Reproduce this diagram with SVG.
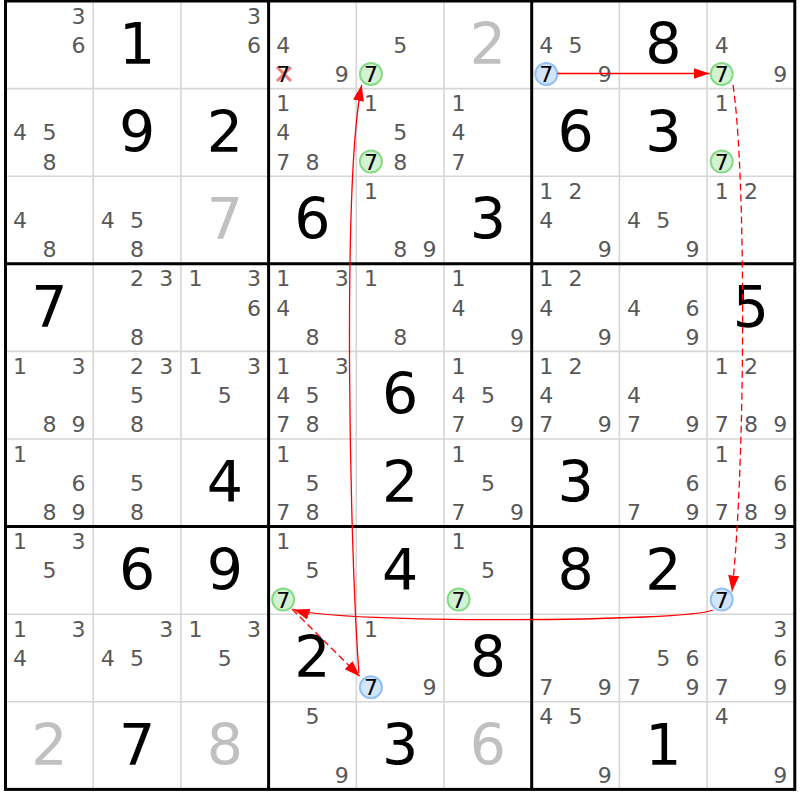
<svg xmlns="http://www.w3.org/2000/svg" width="800" height="800" viewBox="0 0 800 800">
<style>
.c{font-family:"DejaVu Sans","Liberation Sans",sans-serif;font-size:22px;fill:#585858;text-anchor:middle}
.k{font-family:"DejaVu Sans","Liberation Sans",sans-serif;font-size:22px;fill:#000;text-anchor:middle}
.b{font-family:"DejaVu Sans","Liberation Sans",sans-serif;font-size:57px;fill:#000;text-anchor:middle}
.g{font-family:"DejaVu Sans","Liberation Sans",sans-serif;font-size:57px;fill:#c0c0c0;text-anchor:middle}
.thin{stroke:#d6d6d6;stroke-width:1.6}
.thick{stroke:#000;stroke-width:3}
.gc{fill:#d3f1d3;stroke:#86da86;stroke-width:2}
.bc{fill:#d3e5fb;stroke:#92c2f2;stroke-width:2}
.arr{fill:none;stroke:#ff0000;stroke-width:1.3}
.dash{stroke-dasharray:7,4}
</style>
<defs>
<marker id="ah" markerUnits="userSpaceOnUse" markerWidth="18" markerHeight="12" refX="16" refY="5.5" orient="auto">
<path d="M0,0 L16,5.5 L0,11 Z" fill="#ff0000"/>
</marker>
</defs>
<rect x="0" y="0" width="800" height="800" fill="#fff"/>
<g id="grid">
<line class="thin" x1="93.2" y1="1" x2="93.2" y2="789.4"/>
<line class="thin" x1="180.9" y1="1" x2="180.9" y2="789.4"/>
<line class="thin" x1="356.3" y1="1" x2="356.3" y2="789.4"/>
<line class="thin" x1="444" y1="1" x2="444" y2="789.4"/>
<line class="thin" x1="619.4" y1="1" x2="619.4" y2="789.4"/>
<line class="thin" x1="707.1" y1="1" x2="707.1" y2="789.4"/>
<line class="thin" x1="5.5" y1="88.6" x2="794.8" y2="88.6"/>
<line class="thin" x1="5.5" y1="176.2" x2="794.8" y2="176.2"/>
<line class="thin" x1="5.5" y1="351.4" x2="794.8" y2="351.4"/>
<line class="thin" x1="5.5" y1="439" x2="794.8" y2="439"/>
<line class="thin" x1="5.5" y1="614.2" x2="794.8" y2="614.2"/>
<line class="thin" x1="5.5" y1="701.8" x2="794.8" y2="701.8"/>
<line class="thick" x1="268.6" y1="1" x2="268.6" y2="789.4"/>
<line class="thick" x1="531.7" y1="1" x2="531.7" y2="789.4"/>
<line class="thick" x1="5.5" y1="263.8" x2="794.8" y2="263.8"/>
<line class="thick" x1="5.5" y1="526.6" x2="794.8" y2="526.6"/>
<rect class="thick" x="5.5" y="1" width="789.3" height="788.4" fill="none"/>
</g>
<g id="marks">
<circle class="gc" cx="370.9" cy="74" r="11"/>
<circle class="gc" cx="721.7" cy="74" r="11"/>
<circle class="gc" cx="370.9" cy="161.6" r="11"/>
<circle class="gc" cx="721.7" cy="161.6" r="11"/>
<circle class="gc" cx="283.2" cy="599.6" r="11"/>
<circle class="gc" cx="458.6" cy="599.6" r="11"/>
<circle class="bc" cx="546.3" cy="74" r="11"/>
<circle class="bc" cx="721.7" cy="599.6" r="11"/>
<circle class="bc" cx="370.9" cy="687.2" r="11"/>
<path d="M277,67 L291,81 M277,81 L291,67" stroke="#f47c7c" stroke-width="3" fill="none"/>
</g>
<g id="r0">
<text class="c" x="78.6" y="23.6">3</text><text class="c" x="78.6" y="52.8">6</text>
<text class="b" x="137.1" y="64">1</text>
<text class="c" x="254" y="23.6">3</text><text class="c" x="254" y="52.8">6</text>
<text class="c" x="283.2" y="52.8">4</text><text class="k" x="283.2" y="82">7</text><text class="c" x="341.7" y="82">9</text>
<text class="c" x="400.2" y="52.8">5</text><text class="k" x="370.9" y="82">7</text>
<text class="g" x="487.9" y="64">2</text>
<text class="c" x="546.3" y="52.8">4</text><text class="c" x="575.6" y="52.8">5</text><text class="k" x="546.3" y="82">7</text><text class="c" x="604.8" y="82">9</text>
<text class="b" x="663.3" y="64">8</text>
<text class="c" x="721.7" y="52.8">4</text><text class="k" x="721.7" y="82">7</text><text class="c" x="780.2" y="82">9</text>
</g>
<g id="r1">
<text class="c" x="20.1" y="140.4">4</text><text class="c" x="49.4" y="140.4">5</text><text class="c" x="49.4" y="169.6">8</text>
<text class="b" x="137.1" y="151.6">9</text>
<text class="b" x="224.8" y="151.6">2</text>
<text class="c" x="283.2" y="111.2">1</text><text class="c" x="283.2" y="140.4">4</text><text class="c" x="283.2" y="169.6">7</text><text class="c" x="312.5" y="169.6">8</text>
<text class="c" x="370.9" y="111.2">1</text><text class="c" x="400.2" y="140.4">5</text><text class="k" x="370.9" y="169.6">7</text><text class="c" x="400.2" y="169.6">8</text>
<text class="c" x="458.6" y="111.2">1</text><text class="c" x="458.6" y="140.4">4</text><text class="c" x="458.6" y="169.6">7</text>
<text class="b" x="575.6" y="151.6">6</text>
<text class="b" x="663.3" y="151.6">3</text>
<text class="c" x="721.7" y="111.2">1</text><text class="k" x="721.7" y="169.6">7</text>
</g>
<g id="r2">
<text class="c" x="20.1" y="228">4</text><text class="c" x="49.4" y="257.2">8</text>
<text class="c" x="107.8" y="228">4</text><text class="c" x="137.1" y="228">5</text><text class="c" x="137.1" y="257.2">8</text>
<text class="g" x="224.8" y="239.2">7</text>
<text class="b" x="312.5" y="239.2">6</text>
<text class="c" x="370.9" y="198.8">1</text><text class="c" x="400.2" y="257.2">8</text><text class="c" x="429.4" y="257.2">9</text>
<text class="b" x="487.9" y="239.2">3</text>
<text class="c" x="546.3" y="198.8">1</text><text class="c" x="575.6" y="198.8">2</text><text class="c" x="546.3" y="228">4</text><text class="c" x="604.8" y="257.2">9</text>
<text class="c" x="634" y="228">4</text><text class="c" x="663.3" y="228">5</text><text class="c" x="692.5" y="257.2">9</text>
<text class="c" x="721.7" y="198.8">1</text><text class="c" x="751" y="198.8">2</text>
</g>
<g id="r3">
<text class="b" x="49.4" y="326.8">7</text>
<text class="c" x="137.1" y="286.4">2</text><text class="c" x="166.3" y="286.4">3</text><text class="c" x="137.1" y="344.8">8</text>
<text class="c" x="195.5" y="286.4">1</text><text class="c" x="254" y="286.4">3</text><text class="c" x="254" y="315.6">6</text>
<text class="c" x="283.2" y="286.4">1</text><text class="c" x="341.7" y="286.4">3</text><text class="c" x="283.2" y="315.6">4</text><text class="c" x="312.5" y="344.8">8</text>
<text class="c" x="370.9" y="286.4">1</text><text class="c" x="400.2" y="344.8">8</text>
<text class="c" x="458.6" y="286.4">1</text><text class="c" x="458.6" y="315.6">4</text><text class="c" x="517.1" y="344.8">9</text>
<text class="c" x="546.3" y="286.4">1</text><text class="c" x="575.6" y="286.4">2</text><text class="c" x="546.3" y="315.6">4</text><text class="c" x="604.8" y="344.8">9</text>
<text class="c" x="634" y="315.6">4</text><text class="c" x="692.5" y="315.6">6</text><text class="c" x="692.5" y="344.8">9</text>
<text class="b" x="751" y="326.8">5</text>
</g>
<g id="r4">
<text class="c" x="20.1" y="374">1</text><text class="c" x="78.6" y="374">3</text><text class="c" x="49.4" y="432.4">8</text><text class="c" x="78.6" y="432.4">9</text>
<text class="c" x="137.1" y="374">2</text><text class="c" x="166.3" y="374">3</text><text class="c" x="137.1" y="403.2">5</text><text class="c" x="137.1" y="432.4">8</text>
<text class="c" x="195.5" y="374">1</text><text class="c" x="254" y="374">3</text><text class="c" x="224.8" y="403.2">5</text>
<text class="c" x="283.2" y="374">1</text><text class="c" x="341.7" y="374">3</text><text class="c" x="283.2" y="403.2">4</text><text class="c" x="312.5" y="403.2">5</text><text class="c" x="283.2" y="432.4">7</text><text class="c" x="312.5" y="432.4">8</text>
<text class="b" x="400.2" y="414.4">6</text>
<text class="c" x="458.6" y="374">1</text><text class="c" x="458.6" y="403.2">4</text><text class="c" x="487.9" y="403.2">5</text><text class="c" x="458.6" y="432.4">7</text><text class="c" x="517.1" y="432.4">9</text>
<text class="c" x="546.3" y="374">1</text><text class="c" x="575.6" y="374">2</text><text class="c" x="546.3" y="403.2">4</text><text class="c" x="546.3" y="432.4">7</text><text class="c" x="604.8" y="432.4">9</text>
<text class="c" x="634" y="403.2">4</text><text class="c" x="634" y="432.4">7</text><text class="c" x="692.5" y="432.4">9</text>
<text class="c" x="721.7" y="374">1</text><text class="c" x="751" y="374">2</text><text class="c" x="721.7" y="432.4">7</text><text class="c" x="751" y="432.4">8</text><text class="c" x="780.2" y="432.4">9</text>
</g>
<g id="r5">
<text class="c" x="20.1" y="461.6">1</text><text class="c" x="78.6" y="490.8">6</text><text class="c" x="49.4" y="520">8</text><text class="c" x="78.6" y="520">9</text>
<text class="c" x="137.1" y="490.8">5</text><text class="c" x="137.1" y="520">8</text>
<text class="b" x="224.8" y="502">4</text>
<text class="c" x="283.2" y="461.6">1</text><text class="c" x="312.5" y="490.8">5</text><text class="c" x="283.2" y="520">7</text><text class="c" x="312.5" y="520">8</text>
<text class="b" x="400.2" y="502">2</text>
<text class="c" x="458.6" y="461.6">1</text><text class="c" x="487.9" y="490.8">5</text><text class="c" x="458.6" y="520">7</text><text class="c" x="517.1" y="520">9</text>
<text class="b" x="575.6" y="502">3</text>
<text class="c" x="692.5" y="490.8">6</text><text class="c" x="634" y="520">7</text><text class="c" x="692.5" y="520">9</text>
<text class="c" x="721.7" y="461.6">1</text><text class="c" x="780.2" y="490.8">6</text><text class="c" x="721.7" y="520">7</text><text class="c" x="751" y="520">8</text><text class="c" x="780.2" y="520">9</text>
</g>
<g id="r6">
<text class="c" x="20.1" y="549.2">1</text><text class="c" x="78.6" y="549.2">3</text><text class="c" x="49.4" y="578.4">5</text>
<text class="b" x="137.1" y="589.6">6</text>
<text class="b" x="224.8" y="589.6">9</text>
<text class="c" x="283.2" y="549.2">1</text><text class="c" x="312.5" y="578.4">5</text><text class="k" x="283.2" y="607.6">7</text>
<text class="b" x="400.2" y="589.6">4</text>
<text class="c" x="458.6" y="549.2">1</text><text class="c" x="487.9" y="578.4">5</text><text class="k" x="458.6" y="607.6">7</text>
<text class="b" x="575.6" y="589.6">8</text>
<text class="b" x="663.3" y="589.6">2</text>
<text class="c" x="780.2" y="549.2">3</text><text class="k" x="721.7" y="607.6">7</text>
</g>
<g id="r7">
<text class="c" x="20.1" y="636.8">1</text><text class="c" x="78.6" y="636.8">3</text><text class="c" x="20.1" y="666">4</text>
<text class="c" x="166.3" y="636.8">3</text><text class="c" x="107.8" y="666">4</text><text class="c" x="137.1" y="666">5</text>
<text class="c" x="195.5" y="636.8">1</text><text class="c" x="254" y="636.8">3</text><text class="c" x="224.8" y="666">5</text>
<text class="b" x="312.5" y="677.2">2</text>
<text class="c" x="370.9" y="636.8">1</text><text class="k" x="370.9" y="695.2">7</text><text class="c" x="429.4" y="695.2">9</text>
<text class="b" x="487.9" y="677.2">8</text>
<text class="c" x="546.3" y="695.2">7</text><text class="c" x="604.8" y="695.2">9</text>
<text class="c" x="663.3" y="666">5</text><text class="c" x="692.5" y="666">6</text><text class="c" x="634" y="695.2">7</text><text class="c" x="692.5" y="695.2">9</text>
<text class="c" x="780.2" y="636.8">3</text><text class="c" x="780.2" y="666">6</text><text class="c" x="721.7" y="695.2">7</text><text class="c" x="780.2" y="695.2">9</text>
</g>
<g id="r8">
<text class="g" x="49.4" y="764.8">2</text>
<text class="b" x="137.1" y="764.8">7</text>
<text class="g" x="224.8" y="764.8">8</text>
<text class="c" x="312.5" y="724.4">5</text><text class="c" x="341.7" y="782.8">9</text>
<text class="b" x="400.2" y="764.8">3</text>
<text class="g" x="487.9" y="764.8">6</text>
<text class="c" x="546.3" y="724.4">4</text><text class="c" x="575.6" y="724.4">5</text><text class="c" x="604.8" y="782.8">9</text>
<text class="b" x="663.3" y="764.8">1</text>
<text class="c" x="721.7" y="724.4">4</text><text class="c" x="780.2" y="782.8">9</text>
</g>
<g id="connectors">
<path class="arr" d="M557.3,73.5 L709.5,73.5" marker-end="url(#ah)"/>
<path class="arr dash" d="M733,85 C746,170 746,460 732,591.5" marker-end="url(#ah)"/>
<path class="arr" d="M712.7,610 C690,622 340,624 293.5,609.5" marker-end="url(#ah)"/>
<path class="arr dash" d="M292,609 L360,676.5" marker-end="url(#ah)"/>
<path class="arr" d="M359,673 C350,560 342,180 361.7,85" marker-end="url(#ah)"/>
</g>
</svg>
